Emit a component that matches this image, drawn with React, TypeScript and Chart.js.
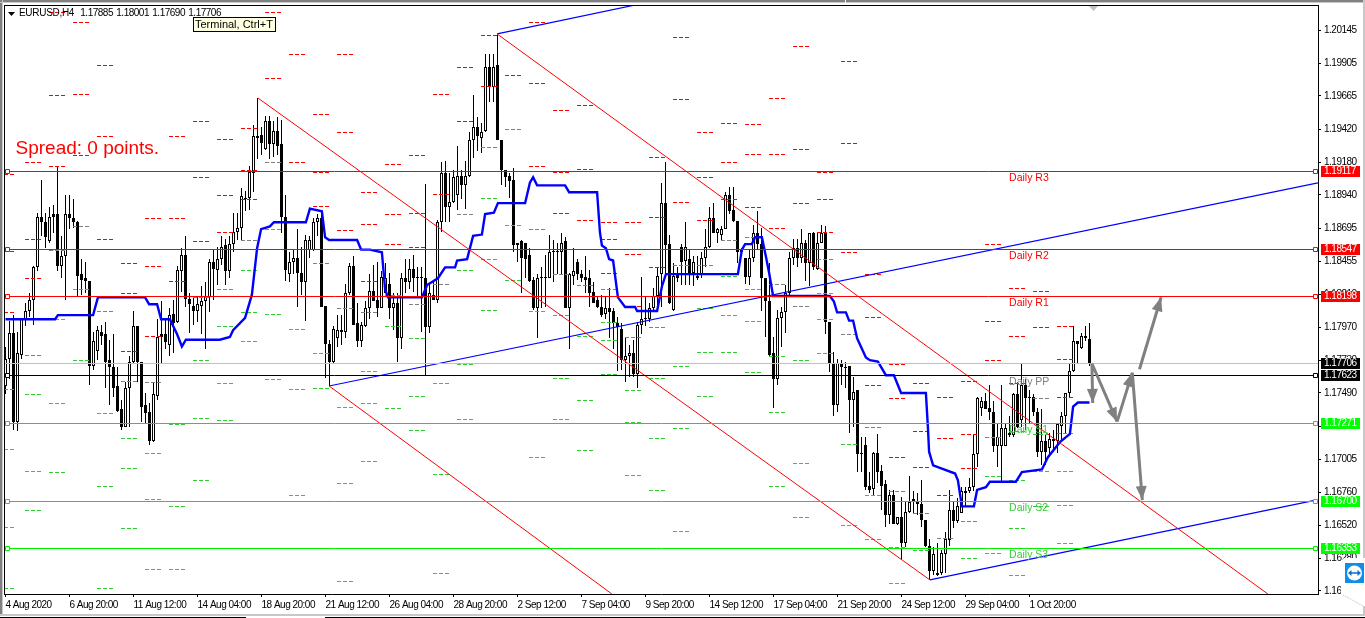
import React, { useEffect, useRef } from "react";
import { Chart, registerables } from "chart.js";

Chart.register(...registerables);

const FONT = '"Liberation Sans", Arial, sans-serif';
const TICK_SIZE = 10;
const TICK_SPACING = "-0.5px";

const opens = [
1.1754,1.1774,1.1793,1.1728,1.1777,1.1803,1.1809,1.1817,1.1841,1.1878,
1.1874,1.1860,1.1880,1.1880,1.1842,1.1849,1.1880,1.1877,1.1874,1.1836,
1.1833,1.1831,1.1769,1.1780,1.1794,1.1792,1.1773,1.1768,1.1754,1.1737,
1.1724,1.1753,1.1772,1.1798,1.1772,1.1740,1.1735,1.1714,1.1747,1.1792,
1.1792,1.1784,1.1807,1.1801,1.1838,1.1850,1.1818,1.1813,1.1809,1.1813,
1.1816,1.1819,1.1845,1.1839,1.1847,1.1857,1.1838,1.1858,1.1867,1.1870,
1.1892,1.1892,1.1910,1.1937,1.1938,1.1928,1.1948,1.1931,1.1941,1.1931,
1.1878,1.1836,1.1845,1.1848,1.1837,1.1830,1.1854,1.1854,1.1874,1.1877,
1.1813,1.1785,1.1772,1.1789,1.1795,1.1794,1.1822,1.1842,1.1800,1.1787,
1.1798,1.1811,1.1824,1.1817,1.1811,1.1822,1.1829,1.1811,1.1815,1.1789,
1.1833,1.1830,1.1840,1.1834,1.1834,1.1833,1.1797,1.1821,1.1817,1.1874,
1.1910,1.1885,1.1889,1.1894,1.1908,1.1901,1.1908,1.1934,1.1944,1.1936,
1.1941,1.1988,1.1973,1.1989,1.1934,1.1912,1.1908,1.1905,1.1857,1.1860,
1.1859,1.1850,1.1832,1.1811,1.1833,1.1834,1.1833,1.1852,1.1853,1.1852,
1.1860,1.1811,1.1835,1.1845,1.1836,1.1834,1.1833,1.1823,1.1817,1.1812,
1.1807,1.1811,1.1809,1.1800,1.1796,1.1773,1.1776,1.1778,1.1763,1.1799,
1.1803,1.1803,1.1811,1.1820,1.1836,1.1888,1.1858,1.1810,1.1836,1.1856,
1.1846,1.1847,1.1837,1.1833,1.1836,1.1848,1.1856,1.1877,1.1866,1.1865,
1.1869,1.1894,1.1883,1.1875,1.1852,1.1848,1.1834,1.1848,1.1866,1.1858,
1.1833,1.1816,1.1778,1.1759,1.1804,1.1808,1.1822,1.1848,1.1855,1.1848,
1.1859,1.1844,1.1866,1.1840,1.1859,1.1866,1.1801,1.1770,1.1740,1.1770,
1.1768,1.1769,1.1744,1.1751,1.1705,1.1711,1.1681,1.1679,1.1705,1.1692,
1.1682,1.1660,1.1674,1.1653,1.1658,1.1639,1.1662,1.1671,1.1669,1.1668,
1.1656,1.1637,1.1619,1.1616,1.1617,1.1631,1.1641,1.1663,1.1655,1.1661,
1.1676,1.1677,1.1680,1.1704,1.1738,1.1743,1.1738,1.1735,1.1710,1.1710,
1.1710,1.1720,1.1718,1.1748,1.1729,1.1755,1.1745,1.1746,1.1735,1.1706,
1.1714,1.1709,1.1714,1.1714,1.1725,1.1732,1.1749,1.1765,1.1787,1.1782,
1.1791,1.17885,
];

const closes = [
1.1774,1.1793,1.1728,1.1778,1.1803,1.1809,1.1817,1.1841,1.1878,1.1874,
1.1863,1.1878,1.1878,1.1842,1.1849,1.1880,1.1877,1.1874,1.1835,1.1832,
1.1831,1.1769,1.1787,1.1795,1.1791,1.1772,1.1768,1.1753,1.1736,1.1724,
1.1753,1.1772,1.1798,1.1772,1.1739,1.1734,1.1714,1.1748,1.1790,1.1790,
1.1786,1.1806,1.1800,1.1839,1.1850,1.1818,1.1814,1.1809,1.1814,1.1816,
1.1819,1.1845,1.1840,1.1847,1.1856,1.1838,1.1858,1.1867,1.1870,1.1893,
1.1891,1.1911,1.1937,1.1936,1.1932,1.1948,1.1931,1.1941,1.1930,1.1878,
1.1839,1.1845,1.1848,1.1837,1.1830,1.1861,1.1861,1.1874,1.1877,1.1812,
1.1785,1.1772,1.1796,1.1795,1.1794,1.1822,1.1842,1.1799,1.1787,1.1799,
1.1811,1.1824,1.1816,1.1811,1.1834,1.1833,1.1811,1.1815,1.1789,1.1833,
1.1830,1.1840,1.1833,1.1833,1.1833,1.1797,1.1822,1.1817,1.1874,1.1910,
1.1885,1.1889,1.1907,1.1908,1.1901,1.1908,1.1934,1.1944,1.1937,1.1940,
1.1988,1.1974,1.1988,1.1934,1.1912,1.1907,1.1904,1.1857,1.1859,1.1848,
1.1847,1.1831,1.1811,1.1833,1.1834,1.1833,1.1852,1.1853,1.1852,1.1859,
1.1811,1.1836,1.1838,1.1836,1.1833,1.1832,1.1822,1.1815,1.1812,1.1806,
1.1811,1.1808,1.1800,1.1797,1.1773,1.1776,1.1778,1.1763,1.1799,1.1803,
1.1804,1.1811,1.1820,1.1835,1.1888,1.1857,1.1815,1.1835,1.1833,1.1845,
1.1856,1.1837,1.1845,1.1835,1.1848,1.1856,1.1877,1.1866,1.1869,1.1869,
1.1894,1.1882,1.1875,1.1852,1.1854,1.1834,1.1848,1.1866,1.1858,1.1833,
1.1816,1.1777,1.1759,1.1804,1.1808,1.1822,1.1848,1.1855,1.1848,1.1859,
1.1844,1.1866,1.1841,1.1859,1.1866,1.1801,1.1770,1.1740,1.1771,1.1768,
1.1767,1.1744,1.1750,1.1704,1.1704,1.1680,1.1678,1.1705,1.1691,1.1681,
1.1660,1.1674,1.1653,1.1658,1.1639,1.1662,1.1669,1.1669,1.1668,1.1656,
1.1637,1.1619,1.1631,1.1617,1.1632,1.1642,1.1663,1.1655,1.1666,1.1677,
1.1677,1.1680,1.1704,1.1745,1.1743,1.1737,1.1735,1.1710,1.1717,1.1723,
1.1723,1.1718,1.1748,1.1724,1.1755,1.1745,1.1746,1.1735,1.1706,1.1714,
1.1706,1.1715,1.1715,1.1726,1.1732,1.1749,1.1765,1.1787,1.1785,1.1791,
1.1789,1.17706,
];

const highs = [
1.1783,1.1802,1.1806,1.1794,1.1803,1.1815,1.1822,1.1842,1.1881,1.1905,
1.1881,1.1885,1.1887,1.1915,1.1864,1.1894,1.1894,1.1891,1.1875,1.1847,
1.1845,1.1831,1.1794,1.1798,1.1799,1.1801,1.1788,1.1792,1.1768,1.1744,
1.1757,1.1776,1.1809,1.1798,1.1772,1.1749,1.1742,1.1757,1.1803,1.1816,
1.1803,1.1811,1.1817,1.1842,1.1855,1.1864,1.1822,1.1819,1.1819,1.1827,
1.1830,1.1847,1.1854,1.1856,1.1864,1.1862,1.1864,1.1881,1.1881,1.1899,
1.1897,1.1915,1.1945,1.1965,1.1944,1.1952,1.1952,1.1948,1.1951,1.1949,
1.1894,1.1852,1.1854,1.1869,1.1856,1.1865,1.1864,1.1877,1.1880,1.1882,
1.1813,1.1788,1.1798,1.1806,1.1806,1.1829,1.1844,1.1849,1.1815,1.1801,
1.1816,1.1836,1.1843,1.1845,1.1838,1.1844,1.1837,1.1822,1.1822,1.1837,
1.1847,1.1847,1.1850,1.1841,1.1841,1.1902,1.1829,1.1832,1.1876,1.1918,
1.1919,1.1910,1.1912,1.1930,1.1912,1.1919,1.1940,1.1967,1.1951,1.1947,
1.1997,1.1997,1.1997,1.2011,1.1934,1.1912,1.1910,1.1914,1.1859,1.1861,
1.1859,1.1855,1.1834,1.1836,1.1841,1.1850,1.1865,1.1861,1.1859,1.1866,
1.1863,1.1837,1.1855,1.1847,1.1839,1.1849,1.1839,1.1830,1.1820,1.1821,
1.1820,1.1826,1.1811,1.1805,1.1800,1.1789,1.1784,1.1788,1.1801,1.1834,
1.1820,1.1815,1.1826,1.1841,1.1903,1.1918,1.1865,1.1844,1.1841,1.1858,
1.1874,1.1854,1.1849,1.1849,1.1852,1.1869,1.1885,1.1888,1.1870,1.1871,
1.1896,1.1900,1.1900,1.1875,1.1855,1.1848,1.1854,1.1872,1.1882,1.1870,
1.1833,1.1844,1.1790,1.1810,1.1812,1.1828,1.1852,1.1862,1.1862,1.1869,
1.1861,1.1866,1.1867,1.1866,1.1872,1.1871,1.1801,1.1779,1.1774,1.1773,
1.1772,1.1769,1.1761,1.1751,1.1717,1.1717,1.1691,1.1706,1.1719,1.1696,
1.1685,1.1678,1.1678,1.1658,1.1673,1.1669,1.1688,1.1677,1.1676,1.1685,
1.1656,1.1642,1.1636,1.1639,1.1634,1.1647,1.1678,1.1669,1.1672,1.1680,
1.1680,1.1687,1.1718,1.1746,1.1746,1.1749,1.1755,1.1743,1.1726,1.1755,
1.1726,1.1732,1.1749,1.1757,1.1771,1.1759,1.1751,1.1748,1.1738,1.1737,
1.1718,1.1720,1.1722,1.1727,1.1735,1.1749,1.1770,1.1798,1.1787,1.1793,
1.1798,1.18001,
];

const lows = [
1.1748,1.1759,1.1722,1.1721,1.1774,1.1798,1.1805,1.1799,1.1838,1.1864,
1.1855,1.1859,1.1866,1.1838,1.1833,1.1817,1.1869,1.1870,1.1820,1.1821,
1.1822,1.1755,1.1766,1.1773,1.1784,1.1753,1.1740,1.1746,1.1735,1.1722,
1.1724,1.1724,1.1771,1.1757,1.1728,1.1726,1.1711,1.1713,1.1744,1.1771,
1.1781,1.1776,1.1778,1.1800,1.1823,1.1812,1.1793,1.1799,1.1801,1.1792,
1.1781,1.1808,1.1817,1.1828,1.1843,1.1828,1.1833,1.1852,1.1861,1.1861,
1.1882,1.1883,1.1896,1.1920,1.1923,1.1927,1.1920,1.1922,1.1923,1.1866,
1.1831,1.1830,1.1836,1.1812,1.1821,1.1802,1.1848,1.1853,1.1864,1.1812,
1.1760,1.1754,1.1771,1.1783,1.1784,1.1789,1.1821,1.1799,1.1783,1.1783,
1.1797,1.1803,1.1816,1.1805,1.1811,1.1822,1.1803,1.1795,1.1772,1.1781,
1.1822,1.1825,1.1823,1.1819,1.1794,1.1762,1.1793,1.1817,1.1815,1.1867,
1.1874,1.1874,1.1888,1.1883,1.1891,1.1884,1.1907,1.1921,1.1926,1.1925,
1.1940,1.1962,1.1962,1.1934,1.1901,1.1900,1.1892,1.1852,1.1845,1.1822,
1.1833,1.1830,1.1810,1.1789,1.1811,1.1812,1.1833,1.1830,1.1836,1.1836,
1.1811,1.1781,1.1828,1.1832,1.1830,1.1822,1.1812,1.1815,1.1811,1.1805,
1.1803,1.1789,1.1781,1.1765,1.1766,1.1757,1.1761,1.1761,1.1753,1.1792,
1.1798,1.1801,1.1809,1.1812,1.1812,1.1836,1.1814,1.1809,1.1830,1.1828,
1.1828,1.1828,1.1827,1.1832,1.1833,1.1841,1.1855,1.1866,1.1859,1.1861,
1.1869,1.1880,1.1874,1.1844,1.1850,1.1829,1.1828,1.1845,1.1854,1.1809,
1.1790,1.1776,1.1738,1.1755,1.1783,1.1793,1.1821,1.1843,1.1841,1.1844,
1.1831,1.1827,1.1839,1.1839,1.1859,1.1792,1.1764,1.1732,1.1735,1.1755,
1.1753,1.1720,1.1724,1.1691,1.1691,1.1678,1.1676,1.1674,1.1683,1.1663,
1.1651,1.1653,1.1653,1.1652,1.1627,1.1636,1.1661,1.1661,1.1660,1.1651,
1.1636,1.1612,1.1616,1.1615,1.1616,1.1617,1.1637,1.1650,1.1654,1.1661,
1.1666,1.1676,1.1677,1.1695,1.1732,1.1738,1.1729,1.1706,1.1695,1.1684,
1.1711,1.1717,1.1717,1.1723,1.1724,1.1722,1.1727,1.1732,1.1702,1.1696,
1.1696,1.1702,1.1706,1.1705,1.1713,1.1720,1.1746,1.1764,1.1771,1.1781,
1.1787,1.1769,
];

// Indicator line read at its corners: bar position and price.
const maBars = [0,12.4,13.1,21.9,23.1,34.9,35.9,37.9,38.9,41.1,42.9,44.1,45.1,53.6,56.1,56.9,59.9,61.6,62.9,63.9,66.1,67.1,75.1,76.1,79.1,79.9,80.9,87.9,88.9,91.1,94.1,94.9,95.6,104.1,105.4,108.1,109.9,112.4,112.9,115.4,116.9,119.1,119.9,122.1,123.1,129.9,131.1,131.9,132.9,139.9,140.9,147.9,148.6,149.1,150.1,150.9,151.9,153.1,154.9,157.4,157.9,162.9,164.1,165.1,183.1,184.1,184.9,186.6,187.4,189.1,190.1,190.9,191.9,206.1,207.1,207.9,210.1,210.9,211.9,212.9,215.1,216.1,218.1,220.1,222.1,223.9,230.1,230.6,230.9,231.9,237.4,238.1,239.1,242.1,242.9,245.1,246.1,252.6,254.1,259.1,260.6,263.6,266.1,266.9,268.1,271];
const maValues = [1.1803,1.1803,1.1806,1.1806,1.1819,1.1819,1.1814,1.1814,1.1803,1.1803,1.1792,1.1783,1.1788,1.1788,1.1790,1.1795,1.1804,1.1821,1.1855,1.1869,1.1871,1.1874,1.1874,1.1884,1.1882,1.1863,1.1861,1.1861,1.1854,1.1854,1.1852,1.1825,1.1819,1.1819,1.1828,1.1833,1.1841,1.1841,1.1846,1.1847,1.1864,1.1865,1.1880,1.1881,1.1888,1.1888,1.1903,1.1907,1.1901,1.1901,1.1896,1.1896,1.1867,1.1857,1.1855,1.1847,1.1846,1.1819,1.1812,1.1812,1.1809,1.1809,1.1827,1.1836,1.1836,1.1854,1.1858,1.1858,1.1863,1.1863,1.1849,1.1837,1.1820,1.1820,1.1816,1.1808,1.1808,1.1802,1.1802,1.1789,1.1775,1.1773,1.1772,1.1762,1.1762,1.1749,1.1749,1.1724,1.1706,1.1696,1.1690,1.1685,1.1666,1.1666,1.1678,1.1680,1.1684,1.1684,1.1691,1.1693,1.1702,1.1713,1.1719,1.1739,1.1742,1.1742];

// Daily pivot levels, one entry per trading day; null = above or below the visible range.
const pivotR3 = [1.1909,1.1918,1.2028,1.2021,1.1989,1.1844,1.1877,1.1937,1.1948,1.1935,1.1943,null,null,1.1953,1.1997,1.1896,1.1917,1.1923,null,null,null,null,1.2021,1.1956,1.1960,1.1874,1.1874,1.1922,1.2010,1.1940,1.1947,1.1946,1.1965,1.2003,1.1911,1.1992,1.1836,1.1770,1.1756,1.1746,1.1758,1.1858,1.1826,1.1824,1.1798,1.19117];
const pivotR2 = [1.1853,1.1862,1.1967,1.1968,1.1937,1.1822,1.1842,1.1877,1.1907,1.1894,1.1912,1.2028,1.1997,1.1911,1.1940,1.1873,1.1880,1.1881,1.1968,1.1988,1.2011,null,1.1976,1.1911,1.1913,1.1862,1.1851,1.1878,1.1964,1.1907,1.1918,1.1924,1.1924,1.1928,1.1891,1.1932,1.1805,1.1745,1.1721,1.1716,1.1719,1.1802,1.1791,1.1797,1.1774,1.18547];
const pivotR1 = [1.1808,1.1833,1.1915,1.1923,1.1862,1.1780,1.1791,1.1831,1.1860,1.1867,1.1891,1.1980,1.1918,1.1886,1.1868,1.1831,1.1858,1.1856,1.1895,1.1948,1.1974,1.1982,1.1915,1.1881,1.1876,1.1837,1.1813,1.1841,1.1889,1.1876,1.1891,1.1885,1.1870,1.1888,1.1867,1.1852,1.1755,1.1702,1.1695,1.1674,1.1694,1.1773,1.1756,1.1771,1.1746,1.18198];
const pivotPP = [1.1752,1.1777,1.1854,1.1871,1.1809,1.1758,1.1757,1.1771,1.1819,1.1825,1.1861,1.1918,1.1874,1.1844,1.1811,1.1808,1.1821,1.1814,1.1829,1.1880,1.1929,1.1942,1.1869,1.1836,1.1828,1.1825,1.1790,1.1797,1.1843,1.1843,1.1861,1.1863,1.1829,1.1813,1.1847,1.1792,1.1724,1.1677,1.1661,1.1643,1.1655,1.1717,1.1721,1.1745,1.1720,1.17623];
const pivotS1 = [1.1708,1.1748,1.1803,1.1825,1.1734,1.1716,1.1705,1.1726,1.1773,1.1798,1.1839,1.1869,1.1796,1.1820,1.1739,1.1765,1.1798,1.1789,1.1756,1.1839,1.1892,1.1872,1.1809,1.1806,1.1791,1.1801,1.1751,1.1760,1.1769,1.1811,1.1835,1.1825,1.1776,1.1773,1.1822,1.1712,1.1674,1.1636,1.1634,null,1.1628,1.1688,1.1685,1.1719,1.1692,1.17271];
const pivotS2 = [1.1651,1.1692,1.1742,1.1773,1.1681,1.1694,1.1671,1.1666,1.1731,1.1756,1.1808,1.1807,1.1752,1.1778,1.1683,1.1742,1.1762,1.1747,1.1690,1.1770,1.1847,1.1832,1.1762,1.1760,1.1744,1.1788,1.1728,1.1716,1.1723,1.1779,1.1806,1.1802,1.1735,1.1698,1.1803,1.1652,1.1642,1.1610,null,null,null,1.1632,1.1650,1.1692,1.1667,1.16700];
const pivotS3 = [1.1606,1.1663,1.1691,1.1727,1.1606,1.1650,1.1620,1.1620,1.1685,1.1729,1.1787,1.1759,1.1674,1.1753,1.1611,1.1699,1.1738,1.1722,1.1617,1.1730,1.1810,1.1762,1.1702,1.1730,1.1707,1.1763,1.1689,1.1678,1.1648,1.1747,1.1779,1.1764,1.1681,1.1658,1.1778,null,null,null,null,null,null,null,1.1616,1.1666,1.1639,1.16353];

// Trend lines: first bar, first price, last bar, last price.
const redTrendBars = [[63.1, 231.1], [122.9, 315.6], [80.9, 151.6]];
const redTrendPrices = [[1.1965, 1.16121], [1.20119, 1.16018], [1.17541, 1.16018]];
const blueTrendBars = [[80.9, 328.1], [122.9, 156.9], [231.1, 327.6]];
const blueTrendPrices = [[1.17541, 1.19028], [1.20119, 1.20328], [1.16121, 1.16706]];

const levelNames = ["R3", "R2", "R1", "PP", "S1", "S2", "S3"];
const levelPrices = [1.19117, 1.18547, 1.18198, 1.17623, 1.17271, 1.167, 1.16353];
const bidPrice = 1.17706;

const arrowFromBars = [271.6, 271.6, 277.9, 281.7, 283.5];
const arrowFromPrices = [1.17706, 1.17706, 1.1728, 1.17639, 1.17664];
const arrowToBars = [271.8, 277.9, 281.7, 284.2, 288.9];
const arrowToPrices = [1.17417, 1.1728, 1.17639, 1.16706, 1.18191];

const xTickLabels = ["4 Aug 2020","6 Aug 20:00","11 Aug 12:00","14 Aug 04:00","18 Aug 20:00","21 Aug 12:00","26 Aug 04:00","28 Aug 20:00","2 Sep 12:00","7 Sep 04:00","9 Sep 20:00","14 Sep 12:00","17 Sep 04:00","21 Sep 20:00","24 Sep 12:00","29 Sep 04:00","1 Oct 20:00"];
const yTicks = [1.20145,1.19905,1.19665,1.1942,1.1918,1.1894,1.18695,1.18455,1.1821,1.1797,1.1773,1.1749,1.17245,1.17005,1.1676,1.1652,1.1628,1.1604];

const X_MIN = -0.375, X_MAX = 328.125, Y_MIN = 1.16018, Y_MAX = 1.20331;
const BARS_PER_DAY = 6, BARS_PER_LABEL = 16;
const RED = "#ff0000", LIME = "#00f000", DASH_GREEN = "#32cd32", GRAY = "#808080";

const levelColor = (name: string) => (name[0] === "R" ? RED : name === "PP" ? "#000000" : LIME);

function pivotDataset(values: (number | null)[], color: string) {
  const data: { x: number; y: number }[] = [];
  values.forEach((v, k) => {
    if (v === null) return;
    const a = k === 0 ? X_MIN : BARS_PER_DAY * k - 1.125;
    const b = k === values.length - 1 ? opens.length - 1 + 0.25 : k === 0 ? 2.125 : BARS_PER_DAY * k + 2.875;
    data.push({ x: a, y: v }, { x: b, y: v }, { x: b, y: NaN });
  });
  return { type: "line", data, borderColor: color, borderWidth: 1, borderDash: [4, 2], pointRadius: 0, order: 8, crisp: true };
}

function lineDataset(bars: number[], prices: number[], color: string, width: number, order: number) {
  return { type: "line", data: bars.map((x, i) => ({ x, y: prices[i] })), borderColor: color, borderWidth: width, pointRadius: 0, order };
}

function levelDataset(price: number, color: string, handles: boolean) {
  return {
    type: "line",
    data: [{ x: X_MIN, y: price }, { x: 0.5, y: price }, { x: 327.5, y: price }, { x: X_MAX, y: price }],
    borderColor: color, borderWidth: 1, order: 5, crisp: true,
    pointStyle: "rect",
    pointRadius: handles ? [0, 2.83, 2.83, 0] : 0,
    pointBackgroundColor: "#ffffff", pointBorderColor: color, pointBorderWidth: 1,
  };
}

const crispPlugin = {
  id: "crisp",
  beforeDraw(chart: any) {
    chart.ctx.letterSpacing = TICK_SPACING;
  },
  afterDatasetsUpdate(chart: any) {
    chart.data.datasets.forEach((ds: any, i: number) => {
      const meta = chart.getDatasetMeta(i);
      if (ds.type === "bar") {
        meta.data.forEach((el: any) => {
          el.y = Math.round(el.y);
          el.base = Math.round(el.base);
          if (el.y === el.base) el.base += 1;
        });
      } else if (ds.crisp) {
        meta.data.forEach((el: any) => {
          if (Number.isFinite(el.y)) el.y = Math.round(el.y) + 0.5;
        });
      }
    });
  },
};

const overlayPlugin = {
  id: "overlay",
  afterDraw(chart: any) {
    const { ctx, scales } = chart;
    const xs = scales.x, ys = scales.y;
    const px = (v: number) => xs.getPixelForValue(v);
    const py = (v: number) => Math.round(ys.getPixelForValue(v)) + 0.5;
    ctx.save();

    // arrow heads
    ctx.fillStyle = GRAY;
    arrowToBars.forEach((b, i) => {
      const x1 = px(b), y1 = ys.getPixelForValue(arrowToPrices[i]);
      const x0 = px(arrowFromBars[i]), y0 = ys.getPixelForValue(arrowFromPrices[i]);
      const a = Math.atan2(y1 - y0, x1 - x0);
      const len = 14, hw = 5.5;
      const bx = x1 - len * Math.cos(a), by = y1 - len * Math.sin(a);
      ctx.beginPath();
      ctx.moveTo(x1, y1);
      ctx.lineTo(bx - hw * Math.sin(a), by + hw * Math.cos(a));
      ctx.lineTo(bx + hw * Math.sin(a), by - hw * Math.cos(a));
      ctx.closePath();
      ctx.fill();
    });

    // frame of the plot
    ctx.fillStyle = "#000000";
    ctx.fillRect(4, 5, 1315, 1);
    ctx.fillRect(4, 5, 1, 590);

    // window edges
    ctx.fillStyle = "#808080";
    ctx.fillRect(0, 0, 1365, 2);
    ctx.fillRect(0, 0, 2, 616);
    ctx.fillStyle = "#c8c8c8";
    ctx.fillRect(0, 2, 1365, 1);
    ctx.fillRect(2, 0, 1, 616);
    ctx.fillRect(1363, 0, 2, 616);
    ctx.fillRect(0, 614, 1365, 2);
    ctx.fillStyle = "#000000";
    ctx.fillRect(0, 617, 246, 1);
    ctx.fillRect(325, 617, 1040, 1);
    ctx.fillStyle = "#ffffff";
    ctx.fillRect(845, 0, 1, 3);

    // daily labels
    ctx.letterSpacing = "0px";
    ctx.font = `10.5px ${FONT}`;
    ctx.textBaseline = "middle";
    ctx.textAlign = "left";
    levelNames.forEach((n, i) => {
      ctx.fillStyle = n[0] === "R" ? RED : n === "PP" ? GRAY : DASH_GREEN;
      ctx.fillText(`Daily ${n}`, px(250.9), py(levelPrices[i]) + 6.5);
    });

    // price tags
    ctx.letterSpacing = TICK_SPACING;
    const tag = (v: number, bg: string) => {
      const y = py(v);
      ctx.fillStyle = bg;
      ctx.fillRect(1321, Math.round(y - 6), 39, 11);
      ctx.fillStyle = "#ffffff";
      ctx.font = `${TICK_SIZE}px ${FONT}`;
      ctx.fillText(v.toFixed(5), 1324, y);
    };
    tag(bidPrice, "#000000");
    levelNames.forEach((n, i) => tag(levelPrices[i], n[0] === "R" ? RED : n === "PP" ? "#000000" : "#00ff00"));

    // header
    ctx.fillStyle = "#000000";
    ctx.beginPath();
    ctx.moveTo(8, 12);
    ctx.lineTo(15, 12);
    ctx.lineTo(11.5, 16);
    ctx.closePath();
    ctx.fill();
    ctx.font = `${TICK_SIZE}px ${FONT}`;
    ctx.letterSpacing = "-0.3px";
    ctx.fillText("EURUSD,H4", 19, 13.5);
    ctx.letterSpacing = TICK_SPACING;
    [opens, highs, lows, closes].forEach((series, i) => {
      ctx.fillText(series[series.length - 1].toFixed(5), 80.3 + 36 * i, 13.5);
    });

    // spread text
    ctx.letterSpacing = "0px";
    ctx.fillStyle = RED;
    ctx.font = `19px ${FONT}`;
    ctx.textBaseline = "alphabetic";
    ctx.fillText("Spread: 0 points.", 15.5, 154);

    // tooltip
    ctx.fillStyle = "#ffffe1";
    ctx.fillRect(193, 17, 83, 15);
    ctx.strokeStyle = "#000000";
    ctx.lineWidth = 1;
    ctx.strokeRect(193.5, 17.5, 82, 14);
    ctx.fillStyle = "#000000";
    ctx.font = `11px ${FONT}`;
    ctx.fillText("Terminal, Ctrl+T", 195, 28);

    // chart-shift marker
    ctx.fillStyle = "#c0c0c0";
    ctx.beginPath();
    ctx.moveTo(1089, 6);
    ctx.lineTo(1098, 6);
    ctx.lineTo(1093.5, 11);
    ctx.closePath();
    ctx.fill();

    // remote-control badge
    ctx.fillStyle = "#ffffff";
    ctx.beginPath();
    ctx.moveTo(1341, 561);
    ctx.lineTo(1344, 558);
    ctx.lineTo(1365, 558);
    ctx.lineTo(1365, 607);
    ctx.lineTo(1343, 595);
    ctx.lineTo(1341, 593);
    ctx.closePath();
    ctx.fill();
    ctx.strokeStyle = "#b8b8b8";
    ctx.setLineDash([1, 1]);
    ctx.beginPath();
    ctx.moveTo(1343, 595);
    ctx.lineTo(1365, 607);
    ctx.stroke();
    ctx.setLineDash([]);
    ctx.fillStyle = "#0e8ee9";
    ctx.fillRect(1345, 563, 19, 20);
    ctx.fillStyle = "#ffffff";
    ctx.beginPath();
    ctx.arc(1354.5, 573, 7.5, 0, Math.PI * 2);
    ctx.fill();
    ctx.strokeStyle = "#0e6fc9";
    ctx.fillStyle = "#0e6fc9";
    ctx.lineWidth = 1.5;
    ctx.beginPath();
    ctx.moveTo(1350, 573);
    ctx.lineTo(1359, 573);
    ctx.stroke();
    [[1348, 1351.5], [1361, 1357.5]].forEach(([t, b]) => {
      ctx.beginPath();
      ctx.moveTo(t, 573);
      ctx.lineTo(b, 570);
      ctx.lineTo(b, 576);
      ctx.closePath();
      ctx.fill();
    });
    ctx.restore();
  },
};

export default function App() {
  const ref = useRef<HTMLCanvasElement>(null);
  useEffect(() => {
    document.body.style.margin = "0";
    document.body.style.background = "#ffffff";
    const idx = opens.map((_, i) => i);
    const wickData = idx.map((i) => ({ x: i, y: [lows[i], highs[i]] }));
    const bodyData = idx.map((i) => ({ x: i, y: [opens[i], closes[i]] }));
    const bodyColors = idx.map((i) => (closes[i] >= opens[i] ? "#ffffff" : "#000000"));

    const arrowShafts: { x: number; y: number }[] = [];
    arrowToBars.forEach((b, i) => {
      arrowShafts.push({ x: arrowFromBars[i], y: arrowFromPrices[i] }, { x: b, y: arrowToPrices[i] }, { x: b, y: NaN });
    });

    const datasets: any[] = [
      { type: "bar", data: wickData, backgroundColor: "#000000", borderWidth: 0, grouped: false, barThickness: 1, maxBarThickness: 1, barPercentage: 1, categoryPercentage: 1, inflateAmount: 0, order: 11 },
      { type: "bar", data: bodyData, backgroundColor: bodyColors, borderColor: "#000000", borderWidth: 1, borderSkipped: false, grouped: false, barThickness: 3, maxBarThickness: 3, barPercentage: 1, categoryPercentage: 1, inflateAmount: 0, order: 10 },
      pivotDataset(pivotR3, RED),
      pivotDataset(pivotR2, RED),
      pivotDataset(pivotR1, RED),
      pivotDataset(pivotPP, GRAY),
      pivotDataset(pivotS1, DASH_GREEN),
      pivotDataset(pivotS2, DASH_GREEN),
      pivotDataset(pivotS3, DASH_GREEN),
      lineDataset(maBars, maValues, "#0000ff", 2.4, 7),
      ...redTrendBars.map((b, i) => lineDataset(b, redTrendPrices[i], RED, 1, 6)),
      ...blueTrendBars.map((b, i) => lineDataset(b, blueTrendPrices[i], "#0000ff", 1.2, 6)),
      levelDataset(bidPrice, "#c0c0c0", false),
      ...levelNames.map((n, i) => levelDataset(levelPrices[i], levelColor(n), true)),
      { type: "line", data: arrowShafts, borderColor: GRAY, borderWidth: 3, pointRadius: 0, order: 1 },
    ];

    const chart = new Chart(ref.current as HTMLCanvasElement, {
      type: "bar",
      data: { datasets },
      plugins: [crispPlugin, overlayPlugin],
      options: {
        responsive: false,
        devicePixelRatio: 1,
        animation: false,
        events: [],
        parsing: undefined,
        layout: { padding: { left: 4, top: 5, right: 0, bottom: 0 } },
        plugins: { legend: { display: false }, tooltip: { enabled: false }, title: { display: false } },
        scales: {
          x: {
            type: "linear", min: X_MIN, max: X_MAX, offset: false,
            grid: { display: true, drawOnChartArea: false, drawTicks: true, tickLength: 3, tickColor: "#000000", offset: false },
            border: { display: true, color: "#000000", width: 1 },
            afterBuildTicks: (s: any) => { s.ticks = xTickLabels.map((_, i) => ({ value: i * BARS_PER_LABEL })); },
            afterFit: (s: any) => { s.height = 24; s.paddingLeft = s.paddingRight = s.paddingTop = s.paddingBottom = 0; },
            ticks: {
              autoSkip: false, maxRotation: 0, minRotation: 0, align: "start", padding: 2, color: "#000000",
              font: { family: FONT, size: TICK_SIZE },
              callback: (v: any) => xTickLabels[Math.round(v / BARS_PER_LABEL)],
            },
          },
          y: {
            type: "linear", position: "right", min: Y_MIN, max: Y_MAX,
            grid: { display: true, drawOnChartArea: false, drawTicks: true, tickLength: 3, tickColor: "#000000" },
            border: { display: true, color: "#000000", width: 1 },
            afterBuildTicks: (s: any) => { s.ticks = yTicks.map((value) => ({ value })); },
            afterFit: (s: any) => { s.width = 47; s.paddingLeft = s.paddingRight = s.paddingTop = s.paddingBottom = 0; },
            ticks: {
              autoSkip: false, padding: 3, color: "#000000", crossAlign: "near",
              font: { family: FONT, size: TICK_SIZE },
              callback: (v: any) => Number(v).toFixed(5),
            },
          },
        },
      } as any,
    } as any);
    return () => chart.destroy();
  }, []);
  return <canvas ref={ref} width={1365} height={618} style={{ display: "block", position: "absolute", left: 0, top: 0 }} />;
}
